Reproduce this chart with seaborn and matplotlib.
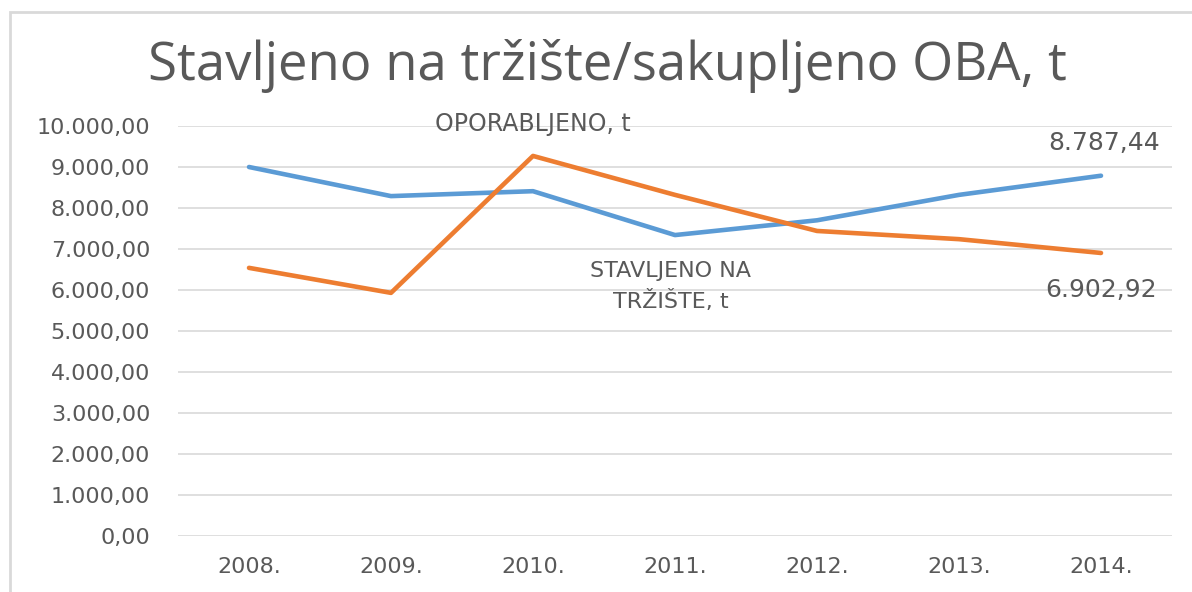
"""
Stavljeno na trziste / sakupljeno OBA, line chart
"""
import matplotlib
matplotlib.use("Agg")
import matplotlib.pyplot as plt
from matplotlib.patches import Rectangle
import pandas as pd
import seaborn as sns

years = ["2008.", "2009.", "2010.", "2011.", "2012.", "2013.", "2014."]
stavljeno = [9000, 8290, 8410, 7340, 7700, 8320, 8787.44]  # blue
oporabljeno = [6540, 5930, 9270, 8320, 7440, 7240, 6902.92]  # orange
y_ticks = [0, 1000, 2000, 3000, 4000, 5000, 6000, 7000, 8000, 9000, 10000]

BLUE = "#5B9BD5"
ORANGE = "#ED7D31"
GRAY = "#595959"


def fmt_hr(v):
    # croatian number format: 8.787,44
    s = f"{v:,.2f}"
    return s.replace(",", "X").replace(".", ",").replace("X", ".")


sns.set_theme(style="white")
plt.rcParams["font.family"] = ["DejaVu Sans"]

df = pd.DataFrame({
    "year": years * 2,
    "value": stavljeno + oporabljeno,
    "series": ["STAVLJENO NA TRŽIŠTE, t"] * len(years) + ["OPORABLJENO, t"] * len(years),
})
df["pos"] = list(range(len(years))) * 2

fig = plt.figure(figsize=(11.92, 5.92), dpi=100)
W, H = 1192, 592
ax = fig.add_axes([178 / W, 1 - 536 / H, (1172 - 178) / W, (536 - 126) / H])

# chart border like the excel frame
fig.patches.append(Rectangle((10 / W, -0.1), 1.2, 1 - 12 / H + 0.1, transform=fig.transFigure,
                             fill=False, edgecolor="#D9D9D9", linewidth=2))

sns.lineplot(data=df, x="pos", y="value", hue="series",
             palette={"STAVLJENO NA TRŽIŠTE, t": BLUE, "OPORABLJENO, t": ORANGE},
             linewidth=3.3, legend=False, ax=ax)
for ln in ax.lines:
    ln.set_solid_capstyle("round")
    ln.set_solid_joinstyle("round")

ax.set_xlim(-0.5, len(years) - 0.5)
ax.set_ylim(0, 10000)
ax.set_xticks(range(len(years)))
ax.set_xticklabels(years)
ax.set_yticks(y_ticks)
ax.set_yticklabels([fmt_hr(v) for v in y_ticks])
ax.tick_params(axis="both", colors=GRAY, labelsize=16, length=0)
ax.tick_params(axis="y", pad=20)
ax.tick_params(axis="x", pad=15)
ax.grid(axis="y", color="#D9D9D9", linewidth=1.2)
ax.set_axisbelow(True)
for sp in ax.spines.values():
    sp.set_visible(False)
ax.set_xlabel("")
ax.set_ylabel("")

fig.text(607 / W, 1 - 66 / H, "Stavljeno na tržište/sakupljeno OBA, t",
         ha="center", va="center", fontsize=38, color=GRAY, family="Open Sans")

# series labels
ax.annotate("OPORABLJENO, t", xy=(2, oporabljeno[2]), xytext=(0, 32),
            textcoords="offset pixels", ha="center", va="center", fontsize=17, color=GRAY)
ax.annotate("STAVLJENO NA\nTRŽIŠTE, t", xy=(3, stavljeno[3]), xytext=(-4, -51),
            textcoords="offset pixels", ha="center", va="center", fontsize=16, color=GRAY,
            linespacing=1.5)

# end data labels
ax.annotate(fmt_hr(stavljeno[-1]), xy=(6, stavljeno[-1]), xytext=(3, 33),
            textcoords="offset pixels", ha="center", va="center", fontsize=18, color=GRAY)
ax.annotate(fmt_hr(oporabljeno[-1]), xy=(6, oporabljeno[-1]), xytext=(0, -37),
            textcoords="offset pixels", ha="center", va="center", fontsize=18, color=GRAY)

fig.savefig("out.png", dpi=100, facecolor="white")
